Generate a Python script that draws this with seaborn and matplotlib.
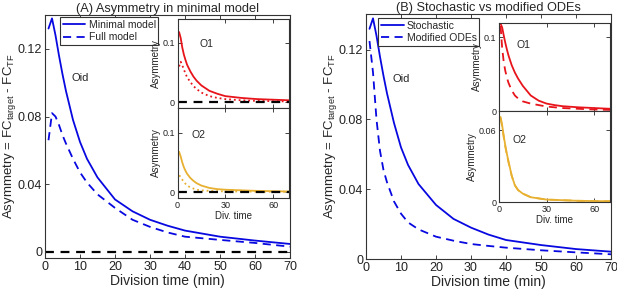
import numpy as np
import matplotlib
matplotlib.use('Agg')
import matplotlib.pyplot as plt
import seaborn as sns

# division time points (min)
t = [1, 2, 3, 4, 5, 6, 8, 10, 12, 15, 20, 25, 30, 35, 40, 50, 60, 70]
zero_x = [0, 70]
zero_y = [0, 0]

# (A) main panel: Oid
a_minimal = [0.132, 0.138, 0.128, 0.116, 0.105, 0.095, 0.078, 0.065, 0.055, 0.044,
             0.031, 0.024, 0.019, 0.0155, 0.0126, 0.009, 0.0067, 0.0047]
a_full = [0.066, 0.082, 0.080, 0.075, 0.069, 0.064, 0.055, 0.047, 0.041, 0.034,
          0.026, 0.019, 0.0148, 0.0115, 0.009, 0.0071, 0.0053, 0.0031]
# (A) insets
a_o1_min = [0.118, 0.108, 0.092, 0.080, 0.071, 0.063, 0.052, 0.043, 0.036, 0.028,
            0.019, 0.014, 0.010, 0.0085, 0.007, 0.005, 0.004, 0.003]
a_o1_full = [0.060, 0.068, 0.062, 0.055, 0.048, 0.042, 0.034, 0.027, 0.022, 0.016,
             0.010, 0.007, 0.005, 0.004, 0.003, 0.002, 0.0015, 0.001]
a_o2_min = [0.068, 0.060, 0.050, 0.042, 0.036, 0.031, 0.024, 0.019, 0.015, 0.011,
            0.007, 0.005, 0.004, 0.0035, 0.003, 0.002, 0.0015, 0.001]
a_o2_full = [0.028, 0.026, 0.021, 0.017, 0.014, 0.011, 0.008, 0.006, 0.004, 0.003,
             0.002, 0.0015, 0.001, 0.001, 0.001, 0.0008, 0.0006, 0.0005]

# (B) main panel: Oid
b_stoch = [0.132, 0.138, 0.128, 0.116, 0.105, 0.095, 0.078, 0.064, 0.054, 0.043,
           0.031, 0.023, 0.018, 0.014, 0.0109, 0.008, 0.0057, 0.0042]
b_ode = [0.125, 0.107, 0.080, 0.062, 0.051, 0.044, 0.033, 0.026, 0.021, 0.017,
         0.0128, 0.0105, 0.0086, 0.0075, 0.0065, 0.005, 0.0038, 0.0027]
# (B) insets
b_o1_stoch = [0.118, 0.113, 0.102, 0.092, 0.083, 0.075, 0.062, 0.052, 0.044, 0.034,
              0.021, 0.014, 0.010, 0.008, 0.0065, 0.005, 0.004, 0.003]
b_o1_ode = [0.115, 0.085, 0.066, 0.054, 0.045, 0.038, 0.028, 0.021, 0.017, 0.013,
            0.010, 0.008, 0.006, 0.005, 0.004, 0.003, 0.002, 0.0015]
b_o2_stoch = [0.071, 0.064, 0.055, 0.047, 0.040, 0.034, 0.022, 0.014, 0.010, 0.007,
              0.004, 0.003, 0.002, 0.0018, 0.0015, 0.001, 0.0008, 0.0006]
b_o2_ode = [0.070, 0.063, 0.054, 0.046, 0.039, 0.033, 0.022, 0.014, 0.010, 0.007,
            0.004, 0.003, 0.002, 0.0018, 0.0015, 0.001, 0.0008, 0.0006]

BLUE = '#0808e0'
RED = '#e8141b'
GOLD = '#e8b030'
EDGE = '#333333'
DASH = (0, (4.5, 3))
ZERO_DASH = (0, (4, 3))

sns.set_style('ticks')
plt.rcParams['font.family'] = ['Liberation Sans', 'DejaVu Sans']
plt.rcParams['mathtext.fontset'] = 'custom'
plt.rcParams['mathtext.rm'] = 'Liberation Sans'
plt.rcParams['mathtext.it'] = 'Liberation Sans'

W, H = 617, 292
fig = plt.figure(figsize=(W / 100, H / 100), dpi=100)


def box(l, t_, r, b):
    return [l / W, 1 - b / H, (r - l) / W, (b - t_) / H]


def style(ax, fs):
    for s in ax.spines.values():
        s.set_color(EDGE)
        s.set_linewidth(0.8)
    ax.tick_params(direction='in', top=True, right=True, labelsize=fs,
                   length=3, width=0.6, colors='#222222', pad=2)


def main_panel(ax, ys, labels, styles, title, ylim, zero, leg_anchor):
    for y, lab, ls in zip(ys, labels, styles):
        sns.lineplot(x=t, y=y, ax=ax, color=BLUE, linestyle=ls, lw=1.3,
                     label=lab)
    if zero:
        sns.lineplot(x=zero_x, y=zero_y, ax=ax, color='black', linestyle=ZERO_DASH,
                     lw=1.6)
    ax.set_xlim(0, 70)
    ax.set_ylim(*ylim)
    ax.set_xticks(range(0, 71, 10))
    ax.set_yticks([0, 0.04, 0.08, 0.12])
    ax.set_yticklabels(['0', '0.04', '0.08', '0.12'])
    ax.set_xlabel('Division time (min)', fontsize=10, labelpad=1)
    ax.set_ylabel('Asymmetry = FC$_\\mathrm{target}$ - FC$_\\mathrm{TF}$',
                  fontsize=9.5, labelpad=0)
    ax.set_title(title, fontsize=9.2, pad=2)
    ax.text(7.5, 0.103, 'Oid', fontsize=8, va='center')
    leg = ax.legend(loc='upper left', bbox_to_anchor=leg_anchor, fontsize=7.5,
                    frameon=True, fancybox=False, framealpha=1,
                    handlelength=2.2, handletextpad=0.3, borderpad=0.25,
                    labelspacing=0.25, borderaxespad=0)
    leg.get_frame().set_edgecolor(EDGE)
    leg.get_frame().set_linewidth(0.8)
    style(ax, 9)


def inset(ax, ys, styles, color, name, ylim, yt, ytl, namexy, zero, xlab):
    for y, ls in zip(ys, styles):
        sns.lineplot(x=t, y=y, ax=ax, color=color, linestyle=ls, lw=1.3)
    if zero:
        sns.lineplot(x=zero_x, y=zero_y, ax=ax, color='black',
                     linestyle=ZERO_DASH, lw=1.6)
    ax.set_xlim(0, 70)
    ax.set_ylim(*ylim)
    ax.set_xticks([0, 30, 60])
    ax.set_yticks(yt)
    ax.set_yticklabels(ytl)
    ax.set_ylabel('Asymmetry', fontsize=7, labelpad=1)
    ax.text(namexy[0], namexy[1], name, fontsize=7.5, va='center')
    if xlab:
        ax.set_xlabel('Div. time', fontsize=7, labelpad=1)
    else:
        ax.set_xticklabels([])
    style(ax, 6.5)
    ax.set_facecolor('white')


axA = fig.add_axes(box(45, 15, 290, 258))
main_panel(axA, [a_minimal, a_full], ['Minimal model', 'Full model'], ['-', DASH],
           '(A) Asymmetry in minimal model', (-0.0036, 0.14), True, (0.061, 0.992))
axA1 = fig.add_axes(box(177.5, 19, 289, 108))
inset(axA1, [a_o1_min, a_o1_full], ['-', ':'], RED, 'O1', (-0.01, 0.14),
      [0, 0.1], ['0', '0.1'], (13.7, 0.098), True, False)
axA2 = fig.add_axes(box(177.5, 108, 289, 198))
inset(axA2, [a_o2_min, a_o2_full], ['-', ':'], GOLD, 'O2', (-0.01, 0.142),
      [0, 0.1], ['0', '0.1'], (8.5, 0.097), True, True)

axB = fig.add_axes(box(366, 14, 611, 259))
main_panel(axB, [b_stoch, b_ode], ['Stochastic', 'Modified ODEs'], ['-', DASH],
           '(B) Stochastic vs modified ODEs', (0, 0.1405), False, (0.049, 0.984))
axB1 = fig.add_axes(box(499, 23, 610, 111))
inset(axB1, [b_o1_stoch, b_o1_ode], ['-', DASH], RED, 'O1', (0, 0.119),
      [0, 0.1], ['0', '0.1'], (11.2, 0.089), False, False)
axB2 = fig.add_axes(box(499, 111, 610, 202))
inset(axB2, [b_o2_stoch, b_o2_ode], ['-', DASH], GOLD, 'O2', (0, 0.076),
      [0, 0.06], ['0', '0.06'], (8.2, 0.052), False, True)

fig.savefig('out.png', dpi=100)
